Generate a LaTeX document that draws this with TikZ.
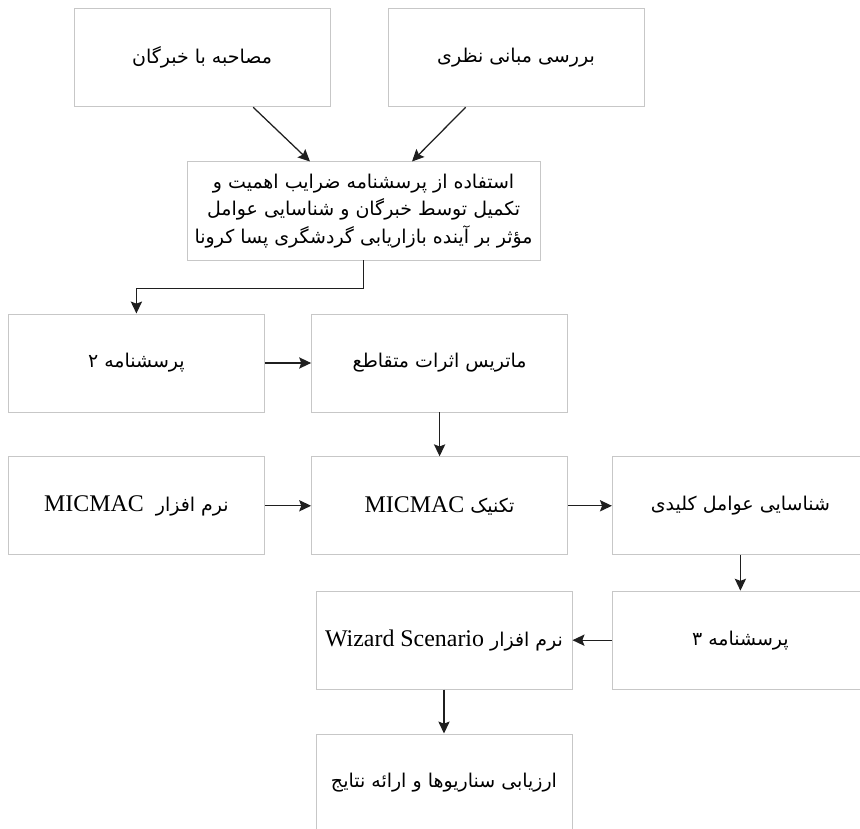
\documentclass[tikz,border=0pt]{standalone}
\usepackage{fontspec}
\setmainfont{Liberation Serif}
\newfontfamily\farsi[Script=Arabic]{DejaVu Sans}
\TeXXeTstate=1
\usetikzlibrary{arrows.meta}
\definecolor{boxgray}{rgb}{0.78,0.78,0.78}
\definecolor{arrgray}{rgb}{0.12,0.12,0.12}
\newcommand{\fa}[1]{{\farsi\fontsize{13.5}{21}\selectfont\beginR #1\endR}}
\newcommand{\lat}[1]{{\rmfamily\fontsize{17}{21}\selectfont #1}}

\begin{document}
\begin{tikzpicture}[
	box/.style={draw=boxgray, line width=0.7pt, minimum width=6.4cm, minimum height=2.45cm, align=center},
	arr/.style={draw=arrgray, line width=0.9pt, -{Stealth[length=8.5pt,width=8pt,inset=1.5pt]}}]
			\useasboundingbox (0,0) rectangle (21.5,20.725);
			\node[box] (interview) at (5.05,19.28) {\fa{مصاحبه با خبرگان}};
			\node[box] (theory) at (12.9,19.28) {\fa{بررسی مبانی نظری}};
			\node[box, minimum width=8.82cm] (survey1) at (9.09,15.45) {\fa{استفاده از پرسشنامه ضرایب اهمیت  و}\\[3pt] \fa{تکمیل توسط خبرگان و شناسایی عوامل}\\[3pt] \fa{مؤثر  بر آینده بازاریابی گردشگری پسا کرونا}};
			\node[box] (survey2) at (3.41,11.65) {\fa{پرسشنامه ۲}};
			\node[box] (matrix) at (10.99,11.65) {\fa{ماتریس اثرات متقاطع}};
			\node[box] (software) at (3.41,8.08) {\fa{نرم افزار\ \ \lat{MICMAC}}};
			\node[box] (technique) at (10.99,8.08) {\fa{تکنیک \lat{MICMAC}}};
			\node[box] (keys) at (18.51,8.08) {\fa{شناسایی عوامل کلیدی}};
			\node[box] (survey3) at (18.51,4.72) {\fa{پرسشنامه ۳}};
			\node[box] (wizard) at (11.1,4.72) {\fa{نرم افزار \beginL\lat{Wizard Scenario}\endL}};
			\node[box] (results) at (11.1,1.15) {\fa{ارزیابی سناریوها و ارائه نتایج}};
			\draw[arr] ([xshift=1.28cm]interview.south) -- ([xshift=-1.34cm]survey1.north);
			\draw[arr] ([xshift=-1.26cm]theory.south) -- ([xshift=1.21cm]survey1.north);
			\draw[arr] (survey1.south) -- ++(0,-0.7) -| (survey2.north);
			\draw[arr] (survey2.east) -- (matrix.west);
			\draw[arr] (matrix.south) -- (technique.north);
			\draw[arr] (software.east) -- (technique.west);
			\draw[arr] (technique.east) -- (keys.west);
			\draw[arr] (keys.south) -- (survey3.north);
			\draw[arr] (survey3.west) -- (wizard.east);
			\draw[arr] (wizard.south) -- (results.north);
		\end{tikzpicture}
\end{document}
